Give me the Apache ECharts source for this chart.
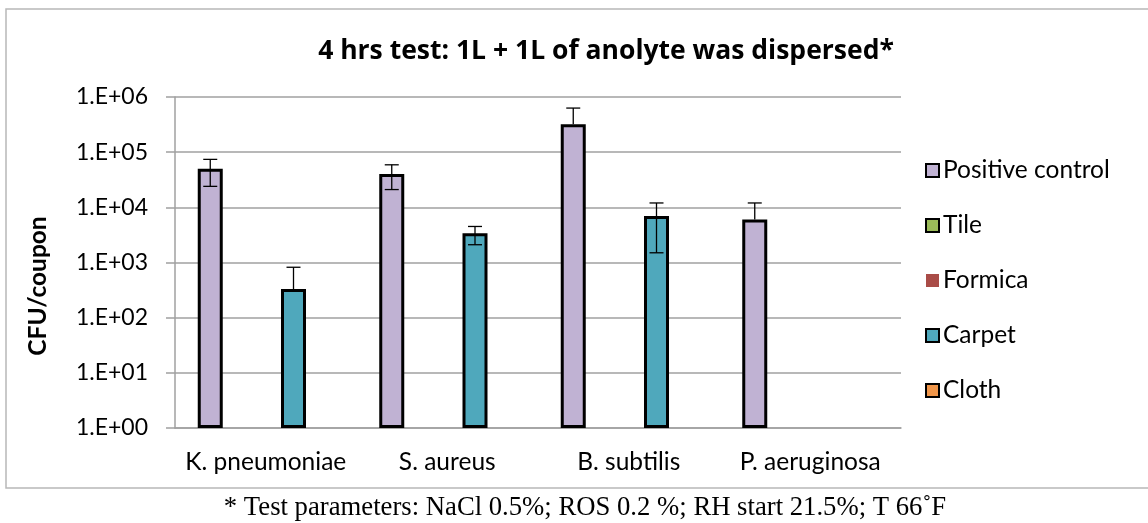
<!DOCTYPE html>
<html>
<head>
<meta charset="utf-8">
<script src="https://cdn.jsdelivr.net/npm/echarts@6/dist/echarts.min.js"></script>
<style>
  html, body { margin: 0; padding: 0; background: #fff; }
  #chart { width: 1148px; height: 523px; }
</style>
</head>
<body>
<div id="chart"></div>
<script>
'use strict';

const categories = ['K. pneumoniae', 'S. aureus', 'B. subtilis', 'P. aeruginosa'];
const seriesNames = ['Positive control', 'Tile', 'Formica', 'Carpet', 'Cloth'];
const seriesColors = ['#C0B2D3', '#9BBB59', '#A94C47', '#4FA8BC', '#F0964A'];

const positiveControl = [50000, 40000, 320000, 6000];
const tile = [null, null, null, null];
const formica = [null, null, null, null];
const carpet = [330, 3400, 7000, null];
const cloth = [null, null, null, null];

// error bars: [lower, upper], null where no whisker is drawn
const positiveControlErr = [[24000, 74000], [21000, 59000], [null, 630000], [null, 12000]];
const carpetErr = [[null, 820], [2100, 4500], [1500, 12000], null];

const yTicks = [1, 10, 100, 1000, 10000, 100000, 1000000];

const chart = echarts.init(document.getElementById('chart'));

const font = 'Lato, "Open Sans", sans-serif';
const BAR_W = 25;
const BAR_GAP = 0.11;
const N_SERIES = seriesNames.length;

function errSeries(errs, slot) {
  const data = [];
  errs.forEach(function (e, i) {
    if (e) data.push([i, e[0], e[1]]);
  });
  return {
    type: 'custom',
    silent: true,
    z: 5,
    data: data,
    encode: { x: 0, y: [1, 2] },
    renderItem: function (params, api) {
      const step = BAR_W * (1 + BAR_GAP);
      const lo = api.value(1);
      const hi = api.value(2);
      const base = api.coord([api.value(0), slot.value[api.value(0)]]);
      const x = base[0] + (slot.index - (N_SERIES - 1) / 2) * step;
      const yTop = api.coord([api.value(0), hi])[1];
      const noLo = lo == null || isNaN(lo);
      const yBot = noLo ? base[1] : api.coord([api.value(0), lo])[1];
      const cap = 7;
      const st = { stroke: '#000', lineWidth: 1.3 };
      const children = [
        { type: 'line', shape: { x1: x, y1: yTop, x2: x, y2: yBot }, style: st },
        { type: 'line', shape: { x1: x - cap, y1: yTop, x2: x + cap, y2: yTop }, style: st }
      ];
      if (!noLo) {
        children.push({ type: 'line', shape: { x1: x - cap, y1: yBot, x2: x + cap, y2: yBot }, style: st });
      }
      return { type: 'group', children: children };
    }
  };
}

const values = [positiveControl, tile, formica, carpet, cloth];

const barSeries = seriesNames.map(function (name, i) {
  return {
    name: name,
    type: 'bar',
    data: values[i],
    barWidth: BAR_W,
    barGap: (BAR_GAP * 100) + '%',
    itemStyle: {
      color: seriesColors[i],
      borderColor: '#000',
      borderWidth: name === 'Formica' ? 0 : 3
    }
  };
});

const option = {
  animation: false,
  backgroundColor: '#fff',
  textStyle: { fontFamily: font },
  title: {
    text: '4 hrs test: 1L + 1L of anolyte was dispersed*',
    left: 601,
    top: 33,
    textAlign: 'center',
    textStyle: { fontFamily: '"Open Sans", sans-serif', fontWeight: 'bold', fontSize: 26.5, color: '#000' }
  },
  legend: {
    orient: 'vertical',
    left: 920,
    top: 153,
    itemGap: 30,
    itemWidth: 13,
    itemHeight: 13,
    icon: 'rect',
    data: seriesNames,
    textStyle: { fontFamily: font, fontSize: 24.5, color: '#000', padding: [0, 0, 0, -1] }
  },
  grid: { left: 175, right: 247, top: 97, bottom: 95 },
  xAxis: {
    type: 'category',
    data: categories,
    axisLine: { lineStyle: { color: '#A0A0A0', width: 1.5 } },
    axisTick: { show: false },
    axisLabel: { color: '#000', fontSize: 24.5, margin: 22, interval: 0, hideOverlap: false, fontFamily: font }
  },
  yAxis: {
    type: 'log',
    logBase: 10,
    min: yTicks[0],
    max: yTicks[yTicks.length - 1],
    axisLine: { show: true, lineStyle: { color: '#A0A0A0', width: 1.5 } },
    axisTick: { show: true, length: 9, lineStyle: { color: '#A0A0A0', width: 1.5 } },
    splitLine: { lineStyle: { color: '#A0A0A0', width: 1.5 } },
    axisLabel: {
      color: '#000',
      fontSize: 23,
      margin: 27,
      fontFamily: font,
      formatter: function (v) {
        const e = Math.round(Math.log10(v));
        return '1.E+' + String(e).padStart(2, '0');
      }
    }
  },
  graphic: [
    {
      type: 'rect',
      shape: { x: 6, y: 9, width: 1200, height: 479 },
      style: { fill: 'none', stroke: '#B8B8B8', lineWidth: 1.5 },
      silent: true
    },
    {
      type: 'text',
      x: 38,
      y: 286,
      rotation: Math.PI / 2,
      style: {
        text: 'CFU/coupon',
        font: 'bold 24.5px Lato, "Open Sans", sans-serif',
        fill: '#000',
        align: 'center',
        verticalAlign: 'middle'
      }
    },
    {
      type: 'text',
      x: 585,
      y: 508,
      style: {
        text: '* Test parameters: NaCl 0.5%; ROS 0.2 %; RH start 21.5%; T 66˚F',
        font: '26.7px "Liberation Serif", "DejaVu Serif", serif',
        fill: '#000',
        align: 'center',
        verticalAlign: 'middle'
      }
    }
  ],
  series: barSeries.concat([
    errSeries(positiveControlErr, { index: 0, value: positiveControl }),
    errSeries(carpetErr, { index: 3, value: carpet })
  ])
};

chart.setOption(option);
</script>
</body>
</html>
